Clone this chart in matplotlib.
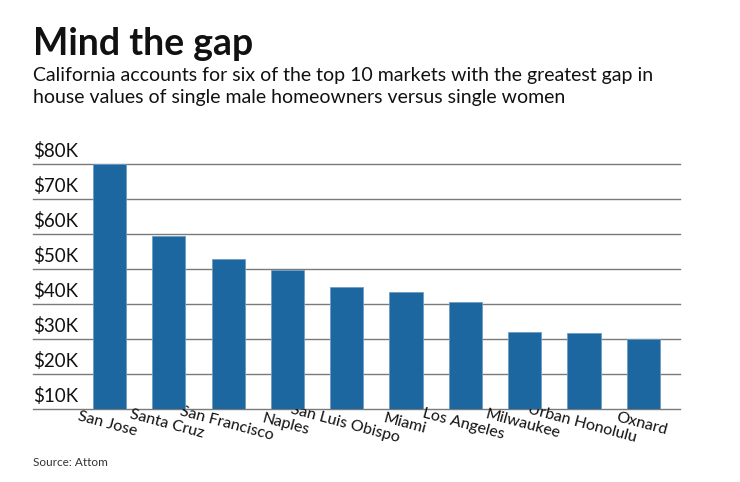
import matplotlib.pyplot as plt

plt.rcParams['font.family'] = ['Lato', 'DejaVu Sans']

# data
markets = ["San Jose", "Santa Cruz", "San Francisco", "Naples", "San Luis Obispo",
           "Miami", "Los Angeles", "Milwaukee", "Urban Honolulu", "Oxnard"]
gap = [80000, 59400, 52700, 49600, 44900, 43300, 40600, 32000, 31800, 30000]
y_ticks = [10000, 20000, 30000, 40000, 50000, 60000, 70000, 80000]
y_labels = ["$10K", "$20K", "$30K", "$40K", "$50K", "$60K", "$70K", "$80K"]

fig = plt.figure(figsize=(7.4, 4.82), dpi=100)
ax = fig.add_axes([0.0446, 0.1515, 0.8744, 0.5085])

x = list(range(len(markets)))
ax.bar(x, gap, width=0.56, color="#1c67a0", edgecolor="#6f9cc4", linewidth=0.6, zorder=3)

ax.set_ylim(10000, 80000)
ax.set_xlim(-1.29, 9.62)

# gridlines + labels sitting on top of them
for v, lab in zip(y_ticks, y_labels):
    ax.axhline(v, color="#7a7a7a", linewidth=1.0, zorder=1, clip_on=False)
    ax.text(0, v + 1200, lab, transform=ax.get_yaxis_transform(),
            ha="left", va="bottom", fontsize=13.5, color="#111111")

ax.set_yticks([])
ax.set_xticks(x)
ax.set_xticklabels(markets, rotation=-15, ha="center", va="top",
                   rotation_mode="anchor", fontsize=11.5, color="#111111")
ax.tick_params(axis="x", length=0, pad=6)
for s in ax.spines.values():
    s.set_visible(False)

# -----------------------------
# Titles and source
# -----------------------------
fig.text(0.0446, 0.886, "Mind the gap", fontsize=27, fontweight="bold",
         ha="left", va="baseline", color="#111111")
fig.text(0.0446, 0.832, "California accounts for six of the top 10 markets with the greatest gap in",
         fontsize=14, ha="left", va="baseline", color="#111111")
fig.text(0.0446, 0.786, "house values of single male homeowners versus single women",
         fontsize=14, ha="left", va="baseline", color="#111111")
fig.text(0.0446, 0.033, "Source: Attom", fontsize=8.5, ha="left", va="baseline", color="#333333")

fig.savefig("out.png", dpi=100)
